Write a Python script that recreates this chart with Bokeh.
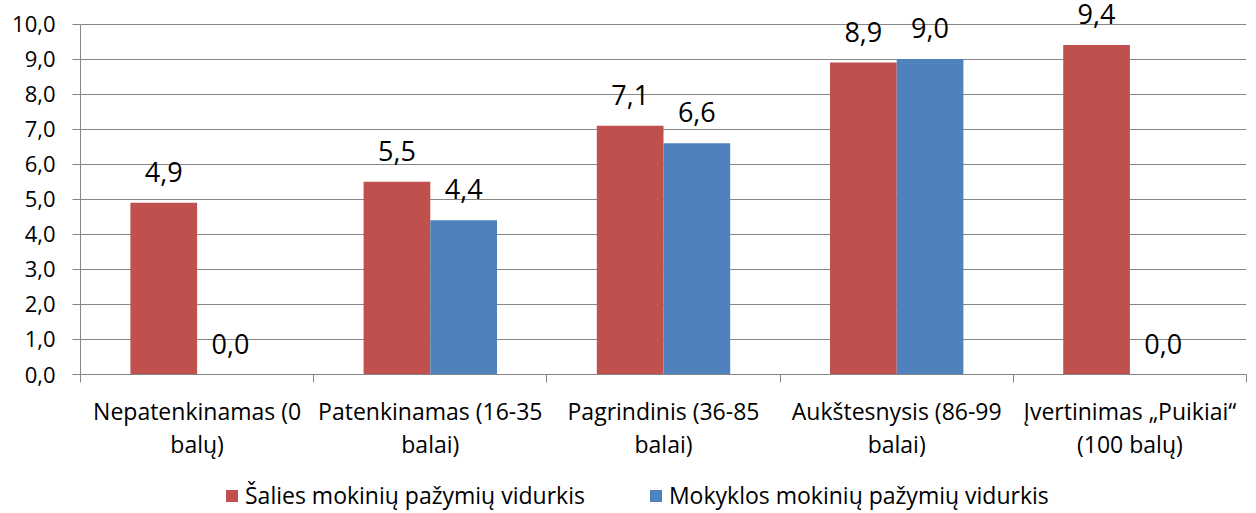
from bokeh.plotting import figure
from bokeh.layouts import column
from bokeh.models import (ColumnDataSource, FixedTicker, LabelSet, Legend, LegendItem)
from bokeh.core.properties import value
from bokeh.embed import file_html
from bokeh.resources import INLINE

categories = ["Nepatenkinamas (0\nbalų)", "Patenkinamas (16-35\nbalai)",
              "Pagrindinis (36-85\nbalai)", "Aukštesnysis (86-99\nbalai)",
              "Įvertinimas „Puikiai“\n(100 balų)"]
series_names = ["Šalies mokinių pažymių vidurkis", "Mokyklos mokinių pažymių vidurkis"]
salies = [4.9, 5.5, 7.1, 8.9, 9.4]
mokyklos = [0.0, 4.4, 6.6, 9.0, 0.0]
y_ticks = [0, 1, 2, 3, 4, 5, 6, 7, 8, 9, 10]
y_tick_labels = ["0,0", "1,0", "2,0", "3,0", "4,0", "5,0", "6,0", "7,0", "8,0", "9,0", "10,0"]

RED = "#C0504D"
BLUE = "#4F81BD"
GRID = "#868686"
FONT = "Open Sans"

W = 1256
H1, H2 = 465, 48
TOP = 0
BOTTOM_Y = 374
UNIT = 35.05
y_end = (BOTTOM_Y - TOP) / UNIT

p = figure(width=W, height=H1, x_range=(0, 5), y_range=(0, y_end),
           output_backend="svg", toolbar_location=None,
           min_border_left=80, min_border_right=10, min_border_top=TOP,
           min_border_bottom=H1 - BOTTOM_Y)
p.outline_line_color = None
p.background_fill_color = "white"

bw = 0.286
centers = [i + 0.5 for i in range(len(categories))]
src = ColumnDataSource(dict(
    xr=[c - bw / 2 for c in centers],
    xb=[c + bw / 2 for c in centers],
    s=salies, m=mokyklos,
    ls=[f"{v:.1f}".replace(".", ",") for v in salies],
    lm=[f"{v:.1f}".replace(".", ",") for v in mokyklos],
))
r1 = p.vbar(x="xr", top="s", bottom=0, width=bw, source=src, fill_color=RED, line_color=None)
r2 = p.vbar(x="xb", top="m", bottom=0, width=bw, source=src, fill_color=BLUE, line_color=None)

for col, xc, ycol in (("ls", "xr", "s"), ("lm", "xb", "m")):
    p.add_layout(LabelSet(x=xc, y=ycol, text=col, source=src, y_offset=21,
                          text_align="center", text_baseline="alphabetic",
                          text_font=value(FONT), text_font_size=value("27px"),
                          text_color="black"))

# y axis
p.yaxis.ticker = FixedTicker(ticks=y_ticks)
p.yaxis.bounds = (0, 10)
p.yaxis.major_label_overrides = {t: l for t, l in zip(y_ticks, y_tick_labels)}
p.yaxis.axis_line_color = GRID
p.yaxis.major_tick_line_color = GRID
p.yaxis.major_tick_out = 8
p.yaxis.major_tick_in = 0
p.yaxis.minor_tick_line_color = None
p.yaxis.major_label_text_font = FONT
p.yaxis.major_label_text_font_size = "22px"
p.yaxis.major_label_text_color = "black"
p.yaxis.major_label_standoff = 17

# x axis
p.xaxis.ticker = FixedTicker(ticks=centers, minor_ticks=list(range(len(categories) + 1)))
p.xaxis.major_label_overrides = {c: l for c, l in zip(centers, categories)}
p.xaxis.axis_line_color = GRID
p.xaxis.major_tick_line_color = None
p.xaxis.major_tick_out = 0
p.xaxis.major_tick_in = 0
p.xaxis.minor_tick_line_color = GRID
p.xaxis.minor_tick_out = 8
p.xaxis.minor_tick_in = 0
p.xaxis.major_label_text_font = FONT
p.xaxis.major_label_text_font_size = "23px"
p.xaxis.major_label_text_color = "black"
p.xaxis.major_label_text_line_height = 1.05
p.xaxis.major_label_standoff = 12

p.xgrid.grid_line_color = None
p.ygrid.ticker = FixedTicker(ticks=y_ticks)
p.ygrid.grid_line_color = GRID
p.ygrid.grid_line_width = 1

# legend strip
p2 = figure(width=W, height=H2, x_range=(0, 1), y_range=(0, 1),
            output_backend="svg", toolbar_location=None, min_border=0)
p2.axis.visible = False
p2.grid.grid_line_color = None
p2.outline_line_color = None
l1 = p2.vbar(x=[-5], top=[0], width=0.0, fill_color=RED, line_color=None)
l2 = p2.vbar(x=[-5], top=[0], width=0.0, fill_color=BLUE, line_color=None)
legend = Legend(items=[LegendItem(label=series_names[0], renderers=[l1]),
                       LegendItem(label=series_names[1], renderers=[l2])],
                orientation="horizontal", location=(144, 2),
                glyph_width=15, glyph_height=15, label_standoff=6, spacing=63,
                padding=0, margin=0, border_line_color=None, background_fill_alpha=0,
                label_text_font=FONT, label_text_font_size="23px", label_text_color="black")
p2.add_layout(legend, "center")

open("out.html", "w").write(file_html(column(p, p2, spacing=0), INLINE))
